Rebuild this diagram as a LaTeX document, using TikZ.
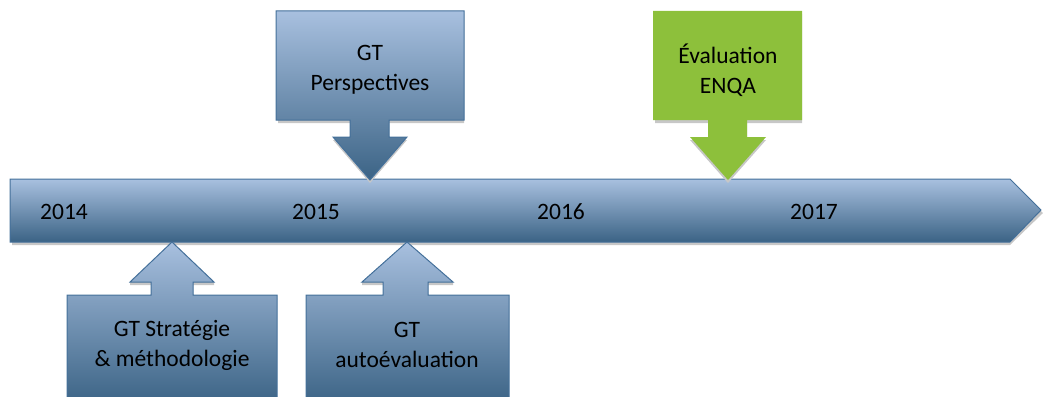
\documentclass[tikz,border=0pt]{standalone}
\usepackage{fontspec}
\setmainfont{Carlito}
\usepackage{tikz}

\definecolor{bluetop}{HTML}{A8C0DF}
\definecolor{bluebot}{HTML}{3B6385}
\definecolor{blueline}{HTML}{44709A}
\definecolor{enqagreen}{HTML}{8DC03B}

\begin{document}
\begin{tikzpicture}[x=1pt,y=-1pt,
        every node/.style={font=\fontsize{23.5}{30}\selectfont, align=center},
        bluebox/.style={top color=bluetop, bottom color=bluebot, draw=blueline, line width=1pt, line join=miter},
        greenbox/.style={fill=enqagreen},
        shade/.style={fill=black!22}]
                \useasboundingbox (0,0) rectangle (1043,396);

                % timeline
                \fill[shade] (12,182) -- (1010,182) -- (1043,213) -- (1010,245) -- (12,245) -- cycle;
                \draw[bluebox] (10,179) -- (1010,179) -- (1041,210) -- (1010,242) -- (10,242) -- cycle;

                \node (y14) at (64,212) {2014};
                \node (y15) at (316,212) {2015};
                \node (y16) at (561,212) {2016};
                \node (y17) at (814,212) {2017};

                % callouts above
                \fill[shade] (278,14) -- (464,14) -- (464,123) -- (389,123) -- (389,140) -- (407,140) -- (370,183) -- (333,140) -- (350,140) -- (350,123) -- (278,123) -- cycle;
                \draw[bluebox] (276,11) -- (464,11) -- (464,120) -- (389,120) -- (389,137) -- (407,137) -- (370,180) -- (333,137) -- (350,137) -- (350,120) -- (276,120) -- cycle;
                \node (persp) at (370,70) {GT\\Perspectives};

                \fill[shade] (655,14) -- (802,14) -- (802,123) -- (747,123) -- (747,140) -- (766,140) -- (728,183) -- (690,140) -- (708,140) -- (708,123) -- (655,123) -- cycle;
                \fill[greenbox] (653,11) -- (802,11) -- (802,120) -- (747,120) -- (747,137) -- (766,137) -- (728,180) -- (690,137) -- (708,137) -- (708,120) -- (653,120) -- cycle;
                \node (enqa) at (728,70) {Évaluation\\ENQA};

                % callouts below
                \fill[shade] (130,285) -- (151,285) -- (151,298) -- (67,298) -- (67,300) -- (277,300) -- (277,298) -- (193,298) -- (193,285) -- (214,285) -- (214,282) -- (130,282) -- cycle;
                \draw[bluebox] (172,242) -- (214,282) -- (193,282) -- (193,295) -- (277,295) -- (277,405) -- (67,405) -- (67,295) -- (151,295) -- (151,282) -- (130,282) -- cycle;
                \node (strat) at (172,345) {GT Stratégie\\\& méthodologie};

                \fill[shade] (362,285) -- (383,285) -- (383,298) -- (306,298) -- (306,300) -- (509,300) -- (509,298) -- (428,298) -- (428,285) -- (453,285) -- (453,282) -- (362,282) -- cycle;
                \draw[bluebox] (407,242) -- (453,282) -- (428,282) -- (428,295) -- (509,295) -- (509,405) -- (306,405) -- (306,295) -- (383,295) -- (383,282) -- (362,282) -- cycle;
                \node (autoeval) at (407,345) {GT\\autoévaluation};
            \end{tikzpicture}
\end{document}
